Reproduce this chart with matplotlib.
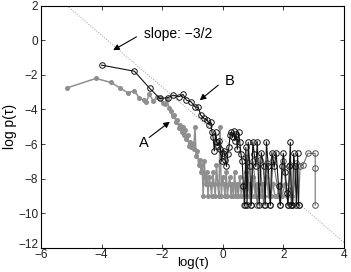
import matplotlib
matplotlib.use("Agg")
import matplotlib.pyplot as plt
import matplotlib.transforms as mtransforms
import numpy as np

plt.rcParams['font.family'] = ['Liberation Sans', 'DejaVu Sans']

# Series A (gray dots)
a_x = [-5.13, -4.19, -3.70, -3.40, -3.14, -2.92, -2.76, -2.60, -2.52, -2.43, -2.30, -2.18,
       -2.08, -1.98, -1.91, -1.84, -1.78, -1.72, -1.66, -1.60, -1.55, -1.50, -1.45, -1.40,
       -1.36, -1.32, -1.28, -1.24, -1.20, -1.16, -1.12, -1.08, -1.04, -1.00, -0.96, -0.92,
       -0.88, -0.84, -0.80, -0.76, -0.72, -0.68, -0.65, -0.61, -0.57, -0.53, -0.49, -0.45,
       -0.41, -0.37, -0.33, -0.29, -0.25, -0.21, -0.17, -0.13, -0.09, -0.05, -0.01, 0.03,
       0.07, 0.11, 0.15, 0.19, 0.23, 0.27, 0.31, 0.35, 0.39, 0.43, 0.47, 0.51, 0.56, 0.61,
       0.66, 0.71, 0.76, 0.81, 0.86, 0.91, 0.96, 1.01, 1.07, 1.13, 1.19, 1.25, 1.31, 1.37,
       1.44, 1.51, 1.58, 1.65, 1.72, 1.80, 1.88, 1.96, 2.04, 2.12, 2.20, 2.30]
a_y = [-2.74, -2.20, -2.43, -2.74, -3.03, -2.92, -3.32, -3.45, -3.55, -3.11, -3.49, -3.30,
       -3.36, -3.60, -3.70, -3.40, -3.90, -4.10, -4.40, -4.30, -4.75, -4.60, -5.10, -4.90,
       -5.30, -5.00, -5.50, -5.20, -5.70, -5.50, -6.10, -5.90, -6.20, -6.00, -6.30, -5.04,
       -6.70, -6.40, -7.20, -6.90, -7.60, -7.20, -9.00, -7.00, -8.31, -7.61, -9.00, -7.90,
       -8.31, -9.00, -7.61, -8.31, -9.00, -7.21, -8.31, -9.00, -5.00, -9.00, -7.90, -8.31,
       -9.00, -7.61, -9.00, -8.31, -7.90, -9.00, -8.31, -9.00, -7.61, -9.00, -8.31, -9.00,
       -7.90, -9.00, -8.31, -9.00, -7.61, -9.00, -8.31, -9.00, -9.00, -7.90, -9.00, -8.31,
       -9.00, -9.00, -8.31, -9.00, -7.90, -9.00, -9.00, -8.31, -9.00, -9.00, -8.31, -9.00,
       -8.31, -9.00, -8.60, -9.00]

# Series B (black open circles)
b_x = [-4.00, -2.92, -2.41, -2.08, -1.82, -1.64, -1.45, -1.31, -1.20, -1.05, -0.92, -0.81,
       -0.73, -0.63, -0.51, -0.45, -0.40, -0.36, -0.32, -0.28, -0.24, -0.20, -0.16, -0.12,
       -0.08, -0.04, 0.00, 0.04, 0.08, 0.12, 0.16, 0.20, 0.24, 0.28, 0.32, 0.36, 0.40, 0.44,
       0.48, 0.52, 0.56, 0.60, 0.64, 0.68, 0.72, 0.76, 0.80, 0.84, 0.89, 0.94, 0.99, 1.04,
       1.09, 1.14, 1.20, 1.27, 1.35, 1.40, 1.44, 1.50, 1.57, 1.62, 1.70, 1.76, 1.84, 1.90,
       1.95, 2.00, 2.06, 2.12, 2.15, 2.20, 2.23, 2.26, 2.30, 2.34, 2.38, 2.43, 2.47, 2.50]
b_y = [-1.43, -1.78, -2.78, -3.36, -3.32, -3.17, -3.26, -3.13, -3.46, -3.55, -3.84, -3.88,
       -4.32, -4.52, -4.61, -4.90, -4.70, -5.30, -5.60, -6.40, -5.33, -5.90, -6.10, -5.80,
       -6.30, -7.00, -6.50, -6.40, -6.90, -7.30, -6.60, -6.20, -5.50, -5.30, -5.60, -5.25,
       -5.80, -5.40, -6.30, -5.30, -5.90, -6.60, -7.00, -8.45, -9.55, -6.20, -9.55, -5.90,
       -7.30, -9.55, -5.87, -6.60, -7.30, -5.87, -9.55, -6.50, -7.30, -9.55, -5.87, -7.30,
       -9.55, -6.50, -7.30, -6.50, -8.45, -9.55, -7.30, -6.54, -7.60, -8.85, -9.55, -7.30,
       -5.91, -9.55, -9.55, -6.54, -7.30, -9.55, -6.54, -9.55]

# Series C (gray open circles, right tail)
c_x = [0.70, 0.78, 0.92, 1.00, 1.14, 1.22, 1.35, 1.45, 1.57, 1.66, 1.90, 2.00, 2.15, 2.23,
       2.30, 2.43, 2.50, 2.55, 2.65, 2.81, 3.05, 3.05, 3.05]
c_y = [-9.55, -6.80, -9.55, -7.00, -9.55, -6.90, -9.55, -7.10, -9.55, -6.90, -9.55, -7.00,
       -9.55, -7.20, -9.55, -7.10, -9.55, -7.30, -7.20, -6.54, -6.54, -7.37, -9.55]

# reference line slope -3/2
ref_x = [-6.0, 4.0]
ref_y = [-1.5 * v - 5.7 for v in ref_x]

fig = plt.figure(figsize=(3.51, 2.72), dpi=100)
ax = fig.add_axes([0.117, 0.09, 0.863, 0.888])

ax.plot(ref_x, ref_y, ':', color='#999999', lw=0.7, zorder=1)
ax.plot(a_x, a_y, '-', color='#8f8f8f', lw=1.1, marker='o', ms=2.6,
        mfc='#8f8f8f', mec='#8f8f8f', zorder=2)
ax.plot(c_x, c_y, '-', color='#707070', lw=0.8, marker='o', ms=4.0,
        mfc='none', mec='#505050', mew=0.7, zorder=3)
ax.plot(b_x, b_y, '-', color='#111111', lw=0.8, marker='o', ms=4.0,
        mfc='none', mec='#111111', mew=0.7, zorder=4)

arrow = dict(arrowstyle='-|>,head_length=0.35,head_width=0.18', color='black', lw=0.8,
             shrinkA=0, shrinkB=0)
ax.annotate('', xy=(-3.62, -0.56), xytext=(-2.85, 0.21), arrowprops=arrow)
ax.text(-2.6, 0.4, 'slope: \u22123/2', fontsize=10, va='center', ha='left')
ax.annotate('', xy=(-0.76, -3.46), xytext=(-0.15, -2.59), arrowprops=arrow)
ax.text(0.05, -2.35, 'B', fontsize=10.5, va='center', ha='left')
ax.annotate('', xy=(-1.75, -4.71), xytext=(-2.43, -5.62), arrowprops=arrow)
ax.text(-2.62, -5.93, 'A', fontsize=10.5, va='center', ha='center')

ax.set_xlim(-6, 4)
ax.set_ylim(-12, 2)
ax.set_xticks([-6, -4, -2, 0, 2, 4])
ax.set_yticks([-12, -10, -8, -6, -4, -2, 0, 2])
ax.set_xticklabels(['\u22126', '\u22124', '\u22122', '0', '2', '4'])
ax.set_yticklabels(['\u221212', '\u221210', '\u22128', '\u22126', '\u22124', '\u22122', '0', '2'])
ax.tick_params(direction='in', length=3, width=0.6, labelsize=8.5, top=True, right=True,
               pad=2, colors='#222222')
ax.tick_params(axis='x', pad=1)
for s in ax.spines.values():
    s.set_linewidth(0.8)
ax.set_xlabel('log(\u03c4)', fontsize=9.5, labelpad=-2.5)
ax.set_ylabel('log p(\u03c4)', fontsize=10, labelpad=1)

# nudge the corner labels apart slightly
lab = ax.get_yticklabels()[0]
lab.set_transform(lab.get_transform() + mtransforms.ScaledTranslation(0, 3 / 72, fig.dpi_scale_trans))

fig.savefig('out.png', dpi=100)
